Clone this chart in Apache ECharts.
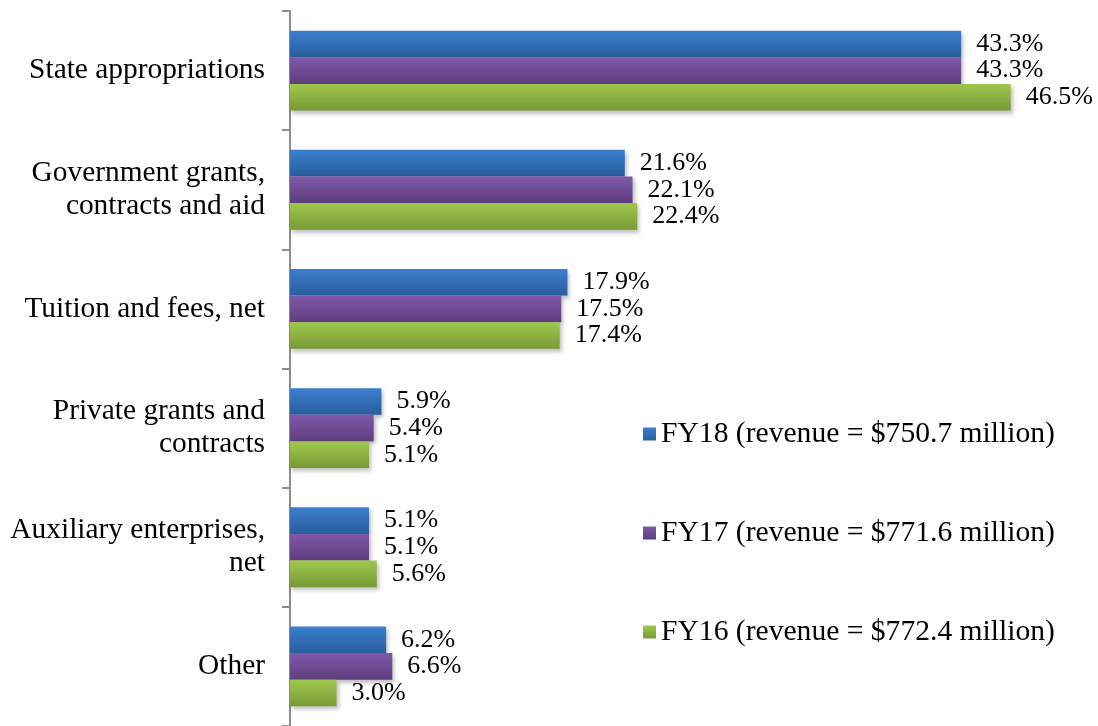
<!DOCTYPE html>
<html>
<head>
<meta charset="utf-8">
<script src="https://cdn.jsdelivr.net/npm/echarts@6/dist/echarts.min.js"></script>
<style>
  html, body { margin: 0; padding: 0; background: #fff; }
  #chart { width: 1098px; height: 726px; }
</style>
</head>
<body>
<div id="chart"></div>
<script>
var categories = [
  'State appropriations',
  'Government grants,\ncontracts and aid',
  'Tuition and fees, net',
  'Private grants and\ncontracts',
  'Auxiliary enterprises,\nnet',
  'Other'
];
var seriesNames = [
  'FY18 (revenue = $750.7 million)',
  'FY17 (revenue = $771.6 million)',
  'FY16 (revenue = $772.4 million)'
];
var fy18 = [43.3, 21.6, 17.9, 5.9, 5.1, 6.2];
var fy17 = [43.3, 22.1, 17.5, 5.4, 5.1, 6.6];
var fy16 = [46.5, 22.4, 17.4, 5.1, 5.6, 3.0];

var chart = echarts.init(document.getElementById('chart'));

function grad(top, bottom) {
  return new echarts.graphic.LinearGradient(0, 0, 0, 1, [
    { offset: 0, color: top },
    { offset: 1, color: bottom }
  ]);
}

var font = '"Liberation Serif", "Times New Roman", serif';

function makeSeries(name, data, top, bottom) {
  return {
    name: name,
    type: 'bar',
    data: data,
    barGap: '0%',
    barCategoryGap: '33%',
    itemStyle: {
      color: grad(top, bottom),
      shadowColor: 'rgba(0,0,0,0.25)',
      shadowBlur: 4,
      shadowOffsetX: 2,
      shadowOffsetY: 3
    },
    label: {
      show: true,
      position: 'right',
      distance: 15,
      color: '#000',
      fontFamily: font,
      fontSize: 26,
      formatter: function (p) { return p.value.toFixed(1) + '%'; }
    }
  };
}

var option = {
  backgroundColor: '#ffffff',
  animation: false,
  grid: { left: 290, top: 11, width: 775, height: 717 },
  legend: {
    orient: 'vertical',
    left: 638,
    top: 414,
    itemWidth: 13,
    itemHeight: 13,
    itemGap: 69,
    icon: 'rect',
    textStyle: { fontFamily: font, fontSize: 29.6, color: '#000' },
    data: seriesNames
  },
  xAxis: {
    type: 'value',
    min: 0,
    max: 50,
    show: false
  },
  yAxis: {
    type: 'category',
    inverse: true,
    data: categories,
    axisLine: { show: true, lineStyle: { color: '#8c8c8c', width: 2 } },
    axisTick: { show: true, length: 8, lineStyle: { color: '#8c8c8c', width: 2 } },
    axisLabel: {
      margin: 25,
      color: '#000',
      fontFamily: font,
      fontSize: 29.4,
      lineHeight: 33,
      align: 'right'
    }
  },
  series: [
    makeSeries(seriesNames[0], fy18, '#3b7fd0', '#2a5d9c'),
    makeSeries(seriesNames[1], fy17, '#8058aa', '#5e3e7e'),
    makeSeries(seriesNames[2], fy16, '#9fc84c', '#789a36')
  ]
};

chart.setOption(option);
</script>
</body>
</html>
